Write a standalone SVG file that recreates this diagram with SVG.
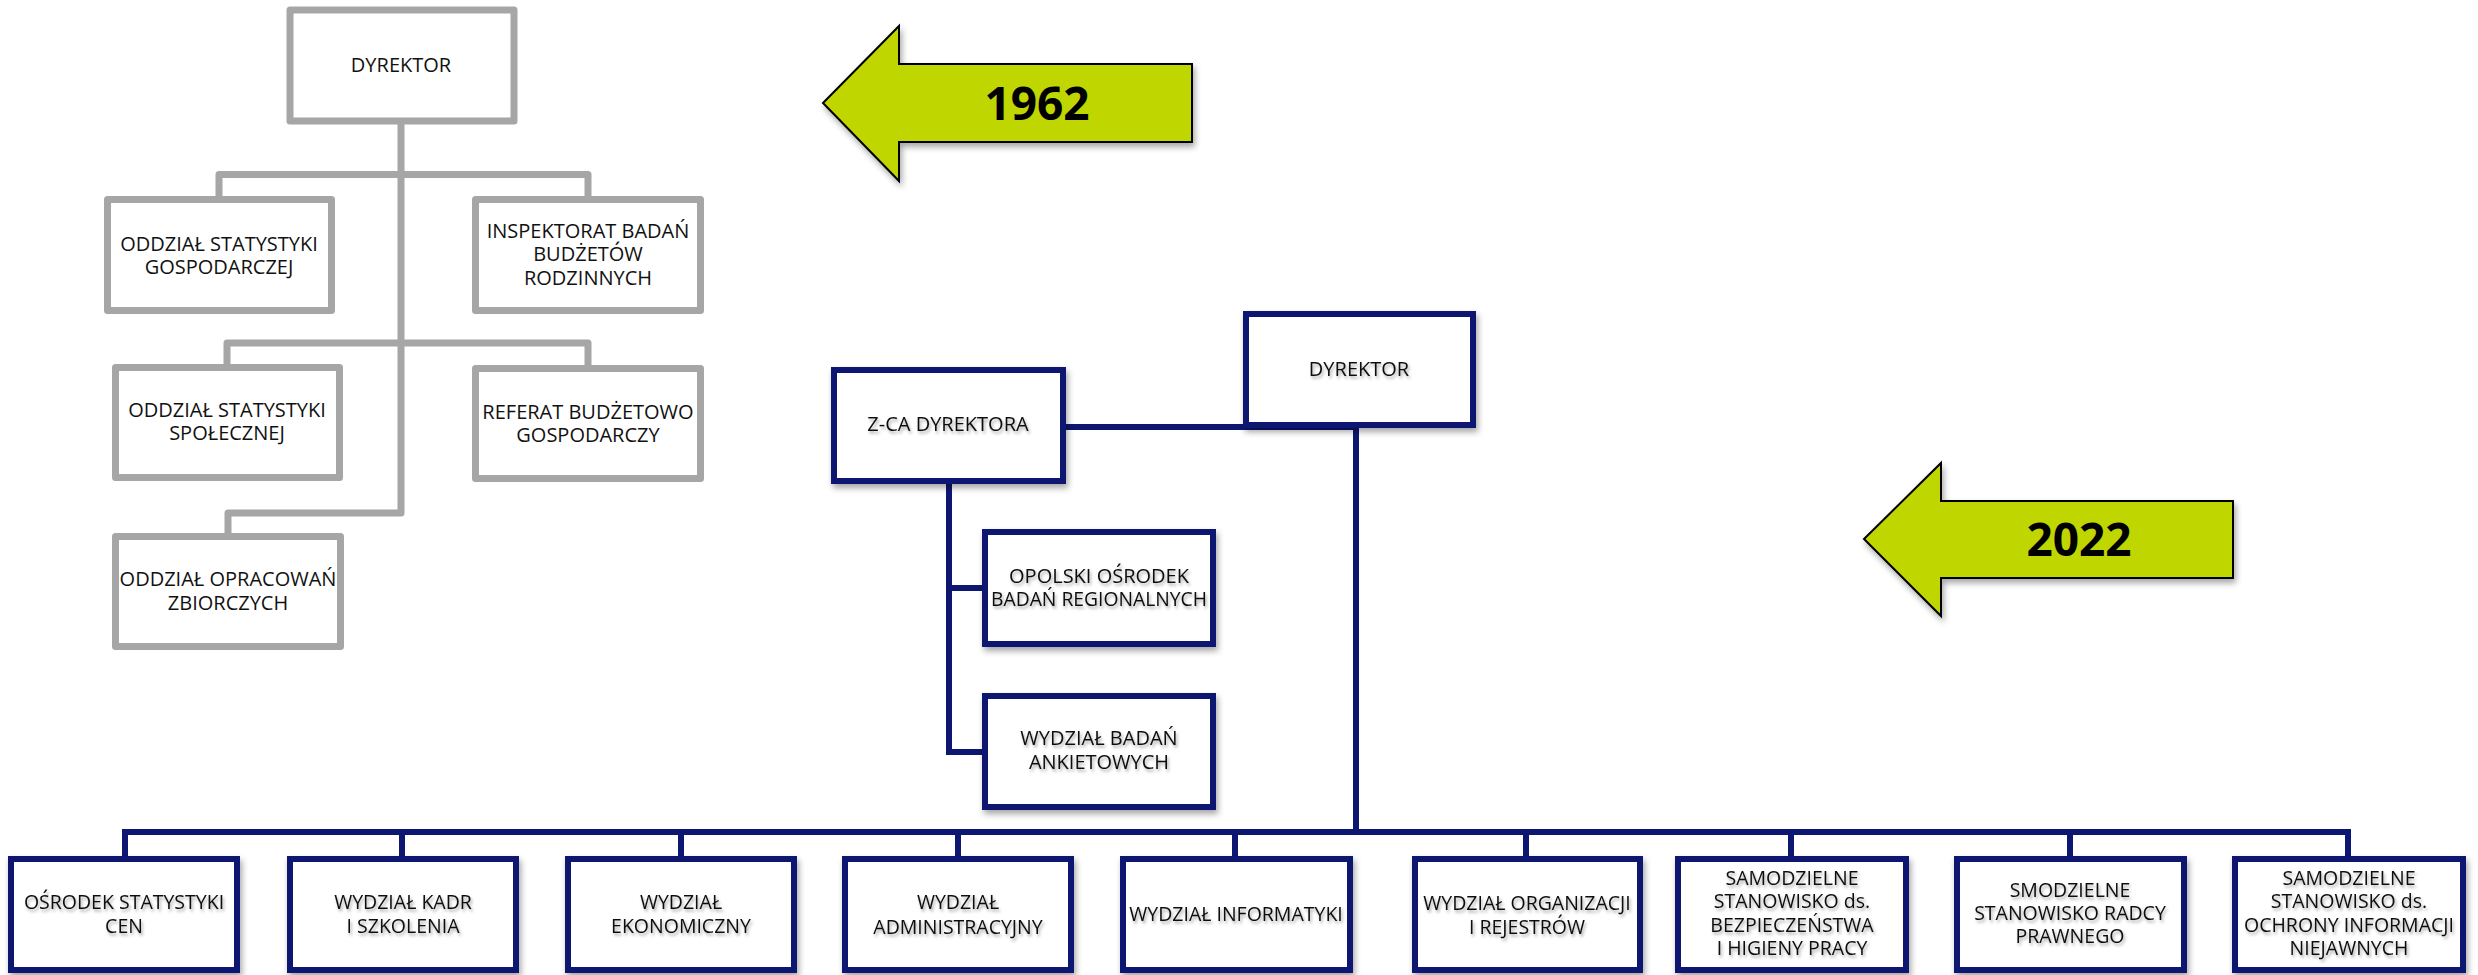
<svg xmlns="http://www.w3.org/2000/svg" width="2478" height="975" viewBox="0 0 2478 975">
<defs>
<filter id="sh" x="-10%" y="-10%" width="130%" height="140%">
<feDropShadow dx="2" dy="4" stdDeviation="3" flood-color="#000" flood-opacity="0.35"/>
</filter>
<filter id="tsh" x="-10%" y="-30%" width="130%" height="180%">
<feDropShadow dx="1.5" dy="2.5" stdDeviation="1.5" flood-color="#000" flood-opacity="0.35"/>
</filter>
</defs>
<style>
.g{fill:#fff;stroke:#a6a6a6;stroke-width:7;stroke-linejoin:round}
.gl{fill:none;stroke:#a6a6a6;stroke-width:7;stroke-linejoin:round}
.n{fill:#fff;stroke:#0d1670;stroke-width:6;filter:url(#sh)}
.nl{fill:none;stroke:#0d1670;stroke-width:6}
.arr{fill:#bfd600;stroke:#000;stroke-width:2;filter:url(#sh)}
text{font-family:"Open Sans","Liberation Sans",sans-serif;fill:#111;text-anchor:middle}
.t1{font-size:20px}
.t2{font-size:19.5px;filter:url(#tsh)}
.t3{font-size:20px;filter:url(#tsh)}
.yr{font-size:46px;font-weight:bold;fill:#000}
</style>

<g id="connectors">
<path class="gl" d="M401,121 V513 H228 V537"/>
<path class="gl" d="M219,200 V174.5 H588 V200"/>
<path class="gl" d="M227,368 V343 H588 V369"/>
<path class="nl" d="M1063,427 H1356 V832"/>
<path class="nl" d="M949,481 V752 H985 M949,588 H985"/>
<path class="nl" d="M125,859 V832 H2348 V859 M402,832 V859 M681,832 V859 M958,832 V859 M1235,832 V859 M1526,832 V859 M1791,832 V859 M2070,832 V859"/>
</g>

<g id="arrow1962">
<polygon class="arr" points="823,103 899,26 899,64 1192,64 1192,142 899,142 899,181"/>
<text class="yr" x="1037" y="120">1962</text>
</g>
<g id="arrow2022">
<polygon class="arr" points="1864,539 1941,463 1941,501 2233,501 2233,578 1941,578 1941,616"/>
<text class="yr" x="2079" y="556">2022</text>
</g>

<g id="g-dyrektor"><rect class="g" x="290" y="10" width="224" height="111"/><text class="t1" x="401" y="72">DYREKTOR</text></g>
<g id="g-osg"><rect class="g" x="107.5" y="199.5" width="224" height="111"/><text class="t1" x="219"><tspan x="219" y="251">ODDZIAŁ STATYSTYKI</tspan><tspan x="219" y="274">GOSPODARCZEJ</tspan></text></g>
<g id="g-ibbr"><rect class="g" x="475.5" y="199.5" width="225" height="111"/><text class="t1" x="588"><tspan x="588" y="238">INSPEKTORAT BADAŃ</tspan><tspan x="588" y="261">BUDŻETÓW</tspan><tspan x="588" y="285">RODZINNYCH</tspan></text></g>
<g id="g-oss"><rect class="g" x="115.5" y="367.5" width="224" height="110"/><text class="t1" x="227"><tspan x="227" y="417">ODDZIAŁ STATYSTYKI</tspan><tspan x="227" y="440">SPOŁECZNEJ</tspan></text></g>
<g id="g-rbg"><rect class="g" x="475.5" y="368.5" width="225" height="110"/><text class="t1" x="588"><tspan x="588" y="419">REFERAT BUDŻETOWO</tspan><tspan x="588" y="442">GOSPODARCZY</tspan></text></g>
<g id="g-ooz"><rect class="g" x="115.5" y="536.5" width="225" height="110"/><text class="t1" x="228"><tspan x="228" y="586">ODDZIAŁ OPRACOWAŃ</tspan><tspan x="228" y="610">ZBIORCZYCH</tspan></text></g>

<g id="n-dyrektor"><rect class="n" x="1246" y="314" width="227" height="111"/><text class="t3" x="1359" y="376">DYREKTOR</text></g>
<g id="n-zca"><rect class="n" x="834" y="370" width="229" height="111"/><text class="t3" x="948" y="431">Z-CA DYREKTORA</text></g>
<g id="n-oobr"><rect class="n" x="985" y="532" width="228" height="112"/><text class="t3" x="1099"><tspan x="1099" y="583">OPOLSKI OŚRODEK</tspan><tspan x="1099" y="606" textLength="216" lengthAdjust="spacingAndGlyphs">BADAŃ REGIONALNYCH</tspan></text></g>
<g id="n-wba"><rect class="n" x="985" y="696" width="228" height="111"/><text class="t3" x="1099"><tspan x="1099" y="745">WYDZIAŁ BADAŃ</tspan><tspan x="1099" y="769">ANKIETOWYCH</tspan></text></g>

<g id="n-osc"><rect class="n" x="11" y="859" width="226" height="111"/><text class="t2" x="124"><tspan x="124" y="909">OŚRODEK STATYSTYKI</tspan><tspan x="124" y="933">CEN</tspan></text></g>
<g id="n-wks"><rect class="n" x="290" y="859" width="226" height="111"/><text class="t2" x="403"><tspan x="403" y="909">WYDZIAŁ KADR</tspan><tspan x="403" y="933">I SZKOLENIA</tspan></text></g>
<g id="n-we"><rect class="n" x="568" y="859" width="226" height="111"/><text class="t2" x="681"><tspan x="681" y="909">WYDZIAŁ</tspan><tspan x="681" y="933">EKONOMICZNY</tspan></text></g>
<g id="n-wa"><rect class="n" x="845" y="859" width="226" height="111"/><text class="t2" x="958"><tspan x="958" y="909">WYDZIAŁ</tspan><tspan x="958" y="934">ADMINISTRACYJNY</tspan></text></g>
<g id="n-wi"><rect class="n" x="1123" y="859" width="227" height="111"/><text class="t2" x="1236" y="921">WYDZIAŁ INFORMATYKI</text></g>
<g id="n-wor"><rect class="n" x="1415" y="859" width="225" height="111"/><text class="t2" x="1527"><tspan x="1527" y="910">WYDZIAŁ ORGANIZACJI</tspan><tspan x="1527" y="934">I REJESTRÓW</tspan></text></g>
<g id="n-bhp"><rect class="n" x="1678" y="859" width="228" height="111"/><text class="t2" x="1792"><tspan x="1792" y="885">SAMODZIELNE</tspan><tspan x="1792" y="908">STANOWISKO ds.</tspan><tspan x="1792" y="932">BEZPIECZEŃSTWA</tspan><tspan x="1792" y="955">I HIGIENY PRACY</tspan></text></g>
<g id="n-rp"><rect class="n" x="1957" y="859" width="227" height="111"/><text class="t2" x="2070"><tspan x="2070" y="897">SMODZIELNE</tspan><tspan x="2070" y="920">STANOWISKO RADCY</tspan><tspan x="2070" y="943">PRAWNEGO</tspan></text></g>
<g id="n-oin"><rect class="n" x="2235" y="859" width="228" height="111"/><text class="t2" x="2349"><tspan x="2349" y="885">SAMODZIELNE</tspan><tspan x="2349" y="908">STANOWISKO ds.</tspan><tspan x="2349" y="932">OCHRONY INFORMACJI</tspan><tspan x="2349" y="955">NIEJAWNYCH</tspan></text></g>
</svg>
